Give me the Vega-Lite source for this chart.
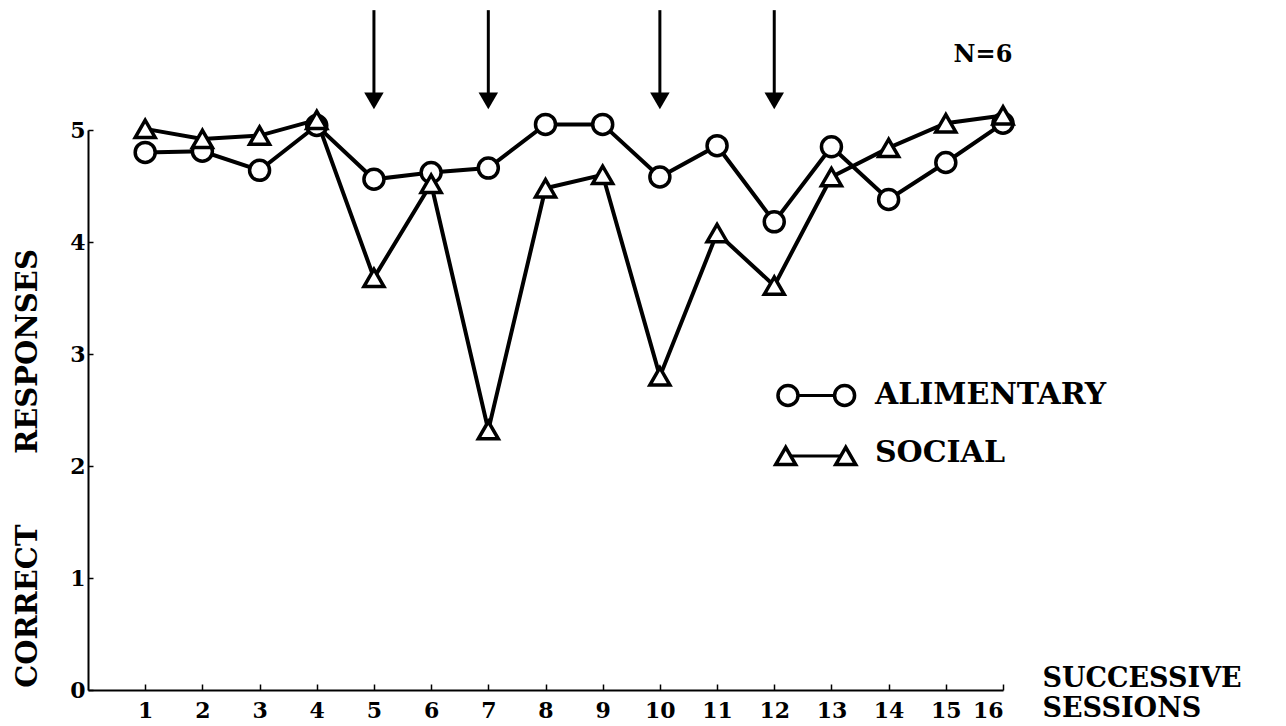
{
  "$schema": "https://vega.github.io/schema/vega-lite/v6.json",
  "width": 915,
  "height": 560,
  "autosize": {"type": "none"},
  "padding": {"left": 88, "top": 130, "right": 283, "bottom": 36},
  "background": "white",
  "config": {
    "view": {"stroke": null},
    "font": "DejaVu Serif",
    "axis": {
      "grid": false,
      "domainColor": "black",
      "domainWidth": 2,
      "tickColor": "black",
      "tickWidth": 1.5,
      "labelColor": "black",
      "labelFont": "DejaVu Serif",
      "labelFontWeight": "bold",
      "labelFontSize": 22,
      "labelOverlap": false,
      "titleColor": "black",
      "titleFont": "DejaVu Serif",
      "titleFontWeight": "bold",
      "titleFontSize": 28
    }
  },
  "datasets": {
    "main": [
      {"session": 1, "condition": "ALIMENTARY", "value": 4.80},
      {"session": 2, "condition": "ALIMENTARY", "value": 4.81},
      {"session": 3, "condition": "ALIMENTARY", "value": 4.64},
      {"session": 4, "condition": "ALIMENTARY", "value": 5.04},
      {"session": 5, "condition": "ALIMENTARY", "value": 4.56},
      {"session": 6, "condition": "ALIMENTARY", "value": 4.62},
      {"session": 7, "condition": "ALIMENTARY", "value": 4.66},
      {"session": 8, "condition": "ALIMENTARY", "value": 5.05},
      {"session": 9, "condition": "ALIMENTARY", "value": 5.05},
      {"session": 10, "condition": "ALIMENTARY", "value": 4.58},
      {"session": 11, "condition": "ALIMENTARY", "value": 4.86},
      {"session": 12, "condition": "ALIMENTARY", "value": 4.18},
      {"session": 13, "condition": "ALIMENTARY", "value": 4.85},
      {"session": 14, "condition": "ALIMENTARY", "value": 4.38},
      {"session": 15, "condition": "ALIMENTARY", "value": 4.71},
      {"session": 16, "condition": "ALIMENTARY", "value": 5.06},
      {"session": 1, "condition": "SOCIAL", "value": 5.01},
      {"session": 2, "condition": "SOCIAL", "value": 4.92},
      {"session": 3, "condition": "SOCIAL", "value": 4.95},
      {"session": 4, "condition": "SOCIAL", "value": 5.09},
      {"session": 5, "condition": "SOCIAL", "value": 3.68},
      {"session": 6, "condition": "SOCIAL", "value": 4.52},
      {"session": 7, "condition": "SOCIAL", "value": 2.32},
      {"session": 8, "condition": "SOCIAL", "value": 4.48},
      {"session": 9, "condition": "SOCIAL", "value": 4.60},
      {"session": 10, "condition": "SOCIAL", "value": 2.80},
      {"session": 11, "condition": "SOCIAL", "value": 4.08},
      {"session": 12, "condition": "SOCIAL", "value": 3.61},
      {"session": 13, "condition": "SOCIAL", "value": 4.58},
      {"session": 14, "condition": "SOCIAL", "value": 4.84},
      {"session": 15, "condition": "SOCIAL", "value": 5.06},
      {"session": 16, "condition": "SOCIAL", "value": 5.13}
    ],
    "legend": [
      {"session": 12.24, "condition": "ALIMENTARY", "value": 2.63},
      {"session": 13.23, "condition": "ALIMENTARY", "value": 2.63},
      {"session": 12.2, "condition": "SOCIAL", "value": 2.09},
      {"session": 13.25, "condition": "SOCIAL", "value": 2.09}
    ],
    "legendText": [
      {"session": 13.76, "value": 2.63, "label": "ALIMENTARY"},
      {"session": 13.76, "value": 2.12, "label": "SOCIAL"}
    ],
    "arrows": [
      {"session": 5, "top": 6.07, "value": 5.25, "head": 5.26},
      {"session": 7, "top": 6.07, "value": 5.25, "head": 5.26},
      {"session": 10, "top": 6.07, "value": 5.25, "head": 5.26},
      {"session": 12, "top": 6.07, "value": 5.25, "head": 5.26}
    ],
    "note": [
      {"session": 15.65, "value": 5.67, "label": "N=6"}
    ]
  },
  "layer": [
    {
      "data": {"name": "main"},
      "mark": {"type": "line", "color": "black", "strokeWidth": 4},
      "encoding": {
        "x": {
          "field": "session", "type": "quantitative",
          "scale": {"domain": [0, 16], "nice": false, "zero": false},
          "axis": {
            "values": [1, 2, 3, 4, 5, 6, 7, 8, 9, 10, 11, 12, 13, 14, 15, 16],
            "format": "d",
            "tickSize": -6,
            "labelPadding": 16,
            "title": ["SUCCESSIVE", "SESSIONS"],
            "titleAngle": 0,
            "titleAlign": "left",
            "titleBaseline": "top",
            "titleLineHeight": 30,
            "titleX": 954,
            "titleY": -25,
            "titleFontSize": 27
          }
        },
        "y": {
          "field": "value", "type": "quantitative",
          "scale": {"domain": [0, 5], "nice": false},
          "axis": {
            "values": [0, 1, 2, 3, 4, 5],
            "format": "d",
            "tickSize": -5,
            "labelPadding": 8,
            "title": "CORRECT\u00a0\u00a0\u00a0\u00a0\u00a0\u00a0\u00a0RESPONSES",
            "titleAngle": 270,
            "titleAlign": "center",
            "titleBaseline": "middle",
            "titleX": -61,
            "titleY": 338,
            "titleFontSize": 29
          }
        },
        "detail": {"field": "condition"}
      }
    },
    {
      "data": {"name": "main"},
      "mark": {"type": "point", "filled": false, "fill": "white", "fillOpacity": 1, "stroke": "black", "strokeWidth": 3.5, "opacity": 1, "size": 400},
      "encoding": {
        "x": {"field": "session", "type": "quantitative"},
        "y": {"field": "value", "type": "quantitative"},
        "shape": {
          "field": "condition", "type": "nominal",
          "scale": {"domain": ["ALIMENTARY", "SOCIAL"], "range": ["circle", "triangle-up"]},
          "legend": null
        }
      }
    },
    {
      "data": {"name": "legend"},
      "mark": {"type": "line", "color": "black", "strokeWidth": 3},
      "encoding": {
        "x": {"field": "session", "type": "quantitative"},
        "y": {"field": "value", "type": "quantitative"},
        "detail": {"field": "condition"}
      }
    },
    {
      "data": {"name": "legend"},
      "mark": {"type": "point", "filled": false, "fill": "white", "fillOpacity": 1, "stroke": "black", "strokeWidth": 3.5, "opacity": 1, "size": 400},
      "encoding": {
        "x": {"field": "session", "type": "quantitative"},
        "y": {"field": "value", "type": "quantitative"},
        "shape": {"field": "condition", "type": "nominal", "legend": null}
      }
    },
    {
      "data": {"name": "legendText"},
      "mark": {"type": "text", "align": "left", "baseline": "middle", "font": "DejaVu Serif", "fontWeight": "bold", "fontSize": 30, "color": "black"},
      "encoding": {
        "x": {"field": "session", "type": "quantitative"},
        "y": {"field": "value", "type": "quantitative"},
        "text": {"field": "label"}
      }
    },
    {
      "data": {"name": "arrows"},
      "mark": {"type": "rule", "color": "black", "strokeWidth": 3},
      "encoding": {
        "x": {"field": "session", "type": "quantitative"},
        "y": {"field": "top", "type": "quantitative"},
        "y2": {"field": "value"}
      }
    },
    {
      "data": {"name": "arrows"},
      "mark": {"type": "point", "shape": "triangle-down", "filled": true, "color": "black", "opacity": 1, "size": 380},
      "encoding": {
        "x": {"field": "session", "type": "quantitative"},
        "y": {"field": "head", "type": "quantitative"}
      }
    },
    {
      "data": {"name": "note"},
      "mark": {"type": "text", "align": "center", "baseline": "middle", "font": "DejaVu Serif", "fontWeight": "bold", "fontSize": 24, "color": "black"},
      "encoding": {
        "x": {"field": "session", "type": "quantitative"},
        "y": {"field": "value", "type": "quantitative"},
        "text": {"field": "label"}
      }
    }
  ]
}
